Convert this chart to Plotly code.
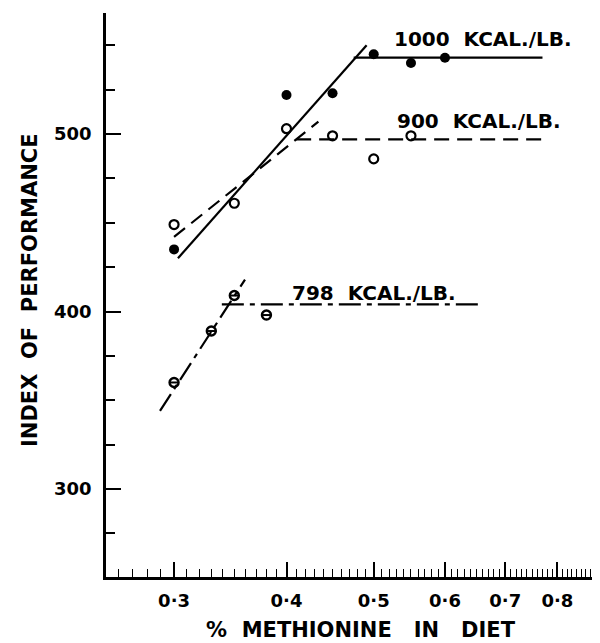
import numpy as np
import plotly.graph_objects as go

# ---- data ----
x_1000 = [0.30, 0.40, 0.45, 0.50, 0.55, 0.60]
y_1000 = [435, 522, 523, 545, 540, 543]
x_900 = [0.30, 0.35, 0.40, 0.45, 0.50, 0.55]
y_900 = [449, 461, 503, 499, 486, 499]
x_798 = [0.30, 0.33, 0.35, 0.38]
y_798 = [360, 389, 409, 398]

# fitted broken lines (rise and plateau)
rise_1000_x = [0.303, 0.491]
rise_1000_y = [430, 550]
flat_1000_x = [0.475, 0.77]
flat_1000_y = [543, 543]
rise_900_x = [0.30, 0.434]
rise_900_y = [442, 507]
flat_900_x = [0.41, 0.77]
flat_900_y = [497, 497]
rise_798_x = [0.2894, 0.3597]
rise_798_y = [344, 418]
flat_798_x = [0.339, 0.661]
flat_798_y = [404, 404]

x_tickvals = [0.3, 0.4, 0.5, 0.6, 0.7, 0.8]
x_ticktext = ["0·3", "0·4", "0·5", "0·6", "0·7", "0·8"]
x_minor = [round(v, 2) for v in np.arange(0.26, 0.90, 0.01)]
y_tickvals = [300, 400, 500]
y_ticktext = ["300", "400", "500"]

labels = ["1000  KCAL./LB.", "900  KCAL./LB.", "798  KCAL./LB."]
label_x = [0.524, 0.528, 0.4036]
label_y = [553.5, 507.3, 410.4]

FONT = "DejaVu Sans"
BLACK = "#000000"

fig = go.Figure()

# fitted lines
fig.add_trace(go.Scatter(x=rise_1000_x, y=rise_1000_y, mode="lines",
                         line=dict(color=BLACK, width=2.2), showlegend=False))
fig.add_trace(go.Scatter(x=flat_1000_x, y=flat_1000_y, mode="lines",
                         line=dict(color=BLACK, width=2.2), showlegend=False))
fig.add_trace(go.Scatter(x=rise_900_x, y=rise_900_y, mode="lines",
                         line=dict(color=BLACK, width=2.2, dash="14px,8px"), showlegend=False))
fig.add_trace(go.Scatter(x=flat_900_x, y=flat_900_y, mode="lines",
                         line=dict(color=BLACK, width=2.2, dash="15px,8px"), showlegend=False))
fig.add_trace(go.Scatter(x=rise_798_x, y=rise_798_y, mode="lines",
                         line=dict(color=BLACK, width=2.2, dash="20px,6px,5px,6px"), showlegend=False))
fig.add_trace(go.Scatter(x=flat_798_x, y=flat_798_y, mode="lines",
                         line=dict(color=BLACK, width=2.2, dash="22px,6px,5px,6px"), showlegend=False))

# points
fig.add_trace(go.Scatter(x=x_1000, y=y_1000, mode="markers",
                         marker=dict(symbol="circle", size=10, color=BLACK), showlegend=False))
fig.add_trace(go.Scatter(x=x_900, y=y_900, mode="markers",
                         marker=dict(symbol="circle-open", size=9, color=BLACK,
                                     line=dict(width=2.2, color=BLACK)), showlegend=False))
fig.add_trace(go.Scatter(x=x_798, y=y_798, mode="markers",
                         marker=dict(symbol="circle-open", size=9, color=BLACK,
                                     line=dict(width=2.4, color=BLACK)), showlegend=False))
fig.add_trace(go.Scatter(x=x_798, y=y_798, mode="markers",
                         marker=dict(symbol="line-ew", size=7, color=BLACK,
                                     line=dict(width=2, color=BLACK)), showlegend=False))

for t, lx, ly in zip(labels, label_x, label_y):
    fig.add_annotation(x=np.log10(lx), y=ly, xref="x", yref="y", text=t,
                       showarrow=False, xanchor="left", yanchor="middle",
                       font=dict(family=FONT, size=20, color=BLACK, weight="bold"))

# axis titles
fig.add_annotation(x=-0.1538, y=0.5089, xref="paper", yref="paper",
                   text="INDEX  OF  PERFORMANCE", textangle=-90, showarrow=False,
                   xanchor="center", yanchor="middle",
                   font=dict(family=FONT, size=21, color=BLACK, weight="bold"))
fig.add_annotation(x=0.516, y=-0.1165, xref="paper", yref="paper",
                   text="%  METHIONINE   IN   DIET", showarrow=False,
                   xanchor="center", yanchor="bottom", borderpad=0,
                   font=dict(family=FONT, size=21, color=BLACK, weight="bold"))

fig.update_xaxes(type="log", range=[-0.5985, -0.0496],
                 showline=True, linecolor=BLACK, linewidth=2.5,
                 ticks="inside", ticklen=15, tickwidth=1.5, tickcolor=BLACK,
                 tickmode="array", tickvals=x_tickvals, ticktext=x_ticktext,
                 tickfont=dict(family=FONT, size=18, color=BLACK, weight="bold"),
                 ticklabelstandoff=6,
                 minor=dict(tickmode="array", tickvals=x_minor, ticks="inside",
                            ticklen=8, tickwidth=1.3, tickcolor=BLACK, showgrid=False),
                 showgrid=False, zeroline=False, mirror=False)
fig.update_yaxes(range=[250.4, 568.2],
                 showline=True, linecolor=BLACK, linewidth=2.5,
                 ticks="inside", ticklen=15, tickwidth=2, tickcolor=BLACK,
                 tickmode="array", tickvals=y_tickvals, ticktext=y_ticktext,
                 tickfont=dict(family=FONT, size=18, color=BLACK, weight="bold"),
                 ticklabelstandoff=8,
                 minor=dict(tickmode="linear", tick0=275, dtick=25, ticks="inside",
                            ticklen=9, tickwidth=2, tickcolor=BLACK, showgrid=False),
                 showgrid=False, zeroline=False, mirror=False)

# the page body has a default 8px margin, so the figure is 8px smaller
fig.update_layout(width=592, height=635,
                  margin=dict(l=98, r=0, t=5, b=66),
                  paper_bgcolor="white", plot_bgcolor="white",
                  showlegend=False)

fig.write_html("out.html")
